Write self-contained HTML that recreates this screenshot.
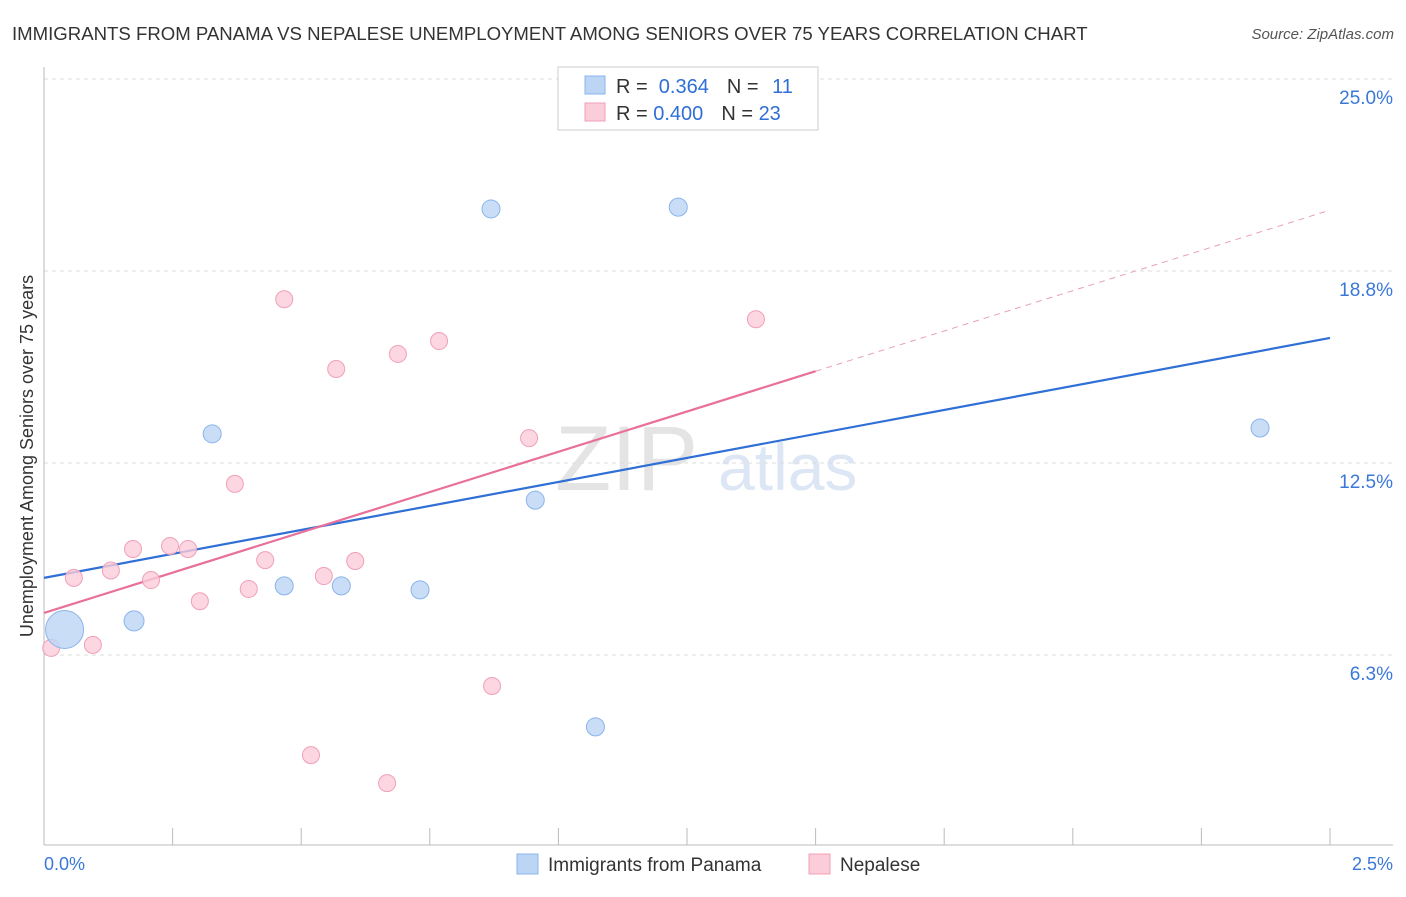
<!DOCTYPE html>
<html><head><meta charset="utf-8"><style>
body{margin:0;background:#fff;font-family:"Liberation Sans",sans-serif;}
svg text{font-family:"Liberation Sans",sans-serif;}
</style></head><body>
<svg width="1406" height="892" id="chart">
<text x="12" y="40" font-size="18.6" fill="#333">IMMIGRANTS FROM PANAMA VS NEPALESE UNEMPLOYMENT AMONG SENIORS OVER 75 YEARS CORRELATION CHART</text>
<text x="1394" y="39" font-size="15" fill="#555" font-style="italic" text-anchor="end">Source: ZipAtlas.com</text>
<text transform="translate(33,456) rotate(-90)" font-size="18" fill="#333" text-anchor="middle">Unemployment Among Seniors over 75 years</text>
<g><text x="555" y="490" font-size="92" fill="#e4e4e4" font-family="Liberation Serif">ZIP</text><text x="718" y="490" font-size="66" fill="#dce6f4">atlas</text></g>
<g id="grid"></g><g id="lines"></g><g id="pts"></g>
<g>
<rect x="558" y="67" width="260" height="63" fill="#fff" stroke="#ccc"/>
<rect x="585" y="76" width="20" height="18" fill="#bcd5f5" stroke="#8ab4ec"/>
<rect x="585" y="103" width="20" height="18" fill="#fbccd9" stroke="#f0a0b8"/>
<text x="616" y="93" font-size="20" fill="#333">R = <tspan fill="#2f6fd6">&#160;0.364</tspan><tspan dx="18">N = </tspan><tspan fill="#2f6fd6" dx="8">11</tspan></text>
<text x="616" y="120" font-size="20" fill="#333">R = <tspan fill="#2f6fd6">0.400</tspan><tspan dx="18">N = </tspan><tspan fill="#2f6fd6">23</tspan></text>
</g>
<g>
<rect x="517" y="854" width="21" height="20" fill="#bcd5f5" stroke="#8ab4ec"/>
<text x="548" y="871" font-size="19" fill="#333">Immigrants from Panama</text>
<rect x="809" y="854" width="21" height="20" fill="#fbccd9" stroke="#f0a0b8"/>
<text x="840" y="871" font-size="19" fill="#333">Nepalese</text>
</g>
<text x="44" y="870" font-size="18" fill="#3a78d8">0.0%</text>
<text x="1393" y="870" font-size="18" fill="#3a78d8" text-anchor="end">2.5%</text>
</svg>
<script>
const yTicks=[25,18.75,12.5,6.25];
const yTickLabels=["25.0%","18.8%","12.5%","6.3%"];
const panamaX=[0.04,0.175,0.327,0.467,0.578,0.731,0.869,0.955,1.072,1.233,2.364];
const panamaY=[7.08,7.36,13.45,8.5,8.5,8.37,20.77,11.29,3.91,20.83,13.64];
const panamaSize=[19,10,9,9,9,9,9,9,9,9,9];
const nepalX=[0.014,0.058,0.095,0.13,0.173,0.208,0.245,0.28,0.303,0.371,0.398,0.43,0.467,0.519,0.544,0.568,0.605,0.667,0.688,0.768,0.871,0.943,1.384];
const nepalY=[6.48,8.76,6.58,9.0,9.7,8.69,9.8,9.7,8.0,11.82,8.4,9.34,17.83,2.99,8.82,15.56,9.31,2.08,16.05,16.47,5.24,13.31,17.18];
const panamaLine=[8.76,16.57];
const nepalLine=[7.62,5.245];
const NS="http://www.w3.org/2000/svg";
const X=v=>44+v*514.4, Y=v=>847-v*30.72;
function mk(t,a,p){const e=document.createElementNS(NS,t);for(const k in a)e.setAttribute(k,a[k]);document.getElementById(p).appendChild(e);return e;}
yTicks.forEach((t,i)=>{
 const g=mk('line',{x1:44,x2:1393,y1:Y(t),y2:Y(t),stroke:'#ddd','stroke-dasharray':'4,4'},'grid');
 
 
 const l=mk('text',{x:1393,y:Y(t)+25,'font-size':19,fill:'#3a78d8','text-anchor':'end'},'grid');
 l.textContent=yTickLabels[i];
 
 
});
const ax=mk('line',{x1:44,x2:1393,y1:845,y2:845,stroke:'#bbb'},'grid');


const ay=mk('line',{x1:44,x2:44,y1:67,y2:845,stroke:'#bbb'},'grid');


for(let i=1;i<=10;i++){const t=mk('line',{x1:X(i*0.25),x2:X(i*0.25),y1:828,y2:845,stroke:'#bbb'},'grid');
 
 }
let e=mk('line',{x1:X(0),y1:Y(panamaLine[0]),x2:X(2.5),y2:Y(panamaLine[1]),stroke:'#2f6fd6','stroke-width':2.2},'lines');


e=mk('line',{x1:X(0),y1:Y(nepalLine[0]),x2:X(1.5),y2:Y(nepalLine[0]+nepalLine[1]*1.5),stroke:'#e8709a','stroke-width':2.2},'lines');


e=mk('line',{x1:X(1.5),y1:Y(nepalLine[0]+nepalLine[1]*1.5),x2:X(2.5),y2:Y(nepalLine[0]+nepalLine[1]*2.5),stroke:'#e8a0b8','stroke-width':1,'stroke-dasharray':'6,5'},'lines');


nepalX.forEach((x,i)=>{const c=mk('circle',{cx:X(x),cy:Y(nepalY[i]),r:8.5,fill:'#fbccd9','fill-opacity':0.8,stroke:'#f0a0b8'},'pts');
 
 });
panamaX.forEach((x,i)=>{const c=mk('circle',{cx:X(x),cy:Y(panamaY[i]),r:panamaSize[i],fill:'#bcd5f5','fill-opacity':0.8,stroke:'#8ab4ec'},'pts');
 
 });
</script>
</body></html>
